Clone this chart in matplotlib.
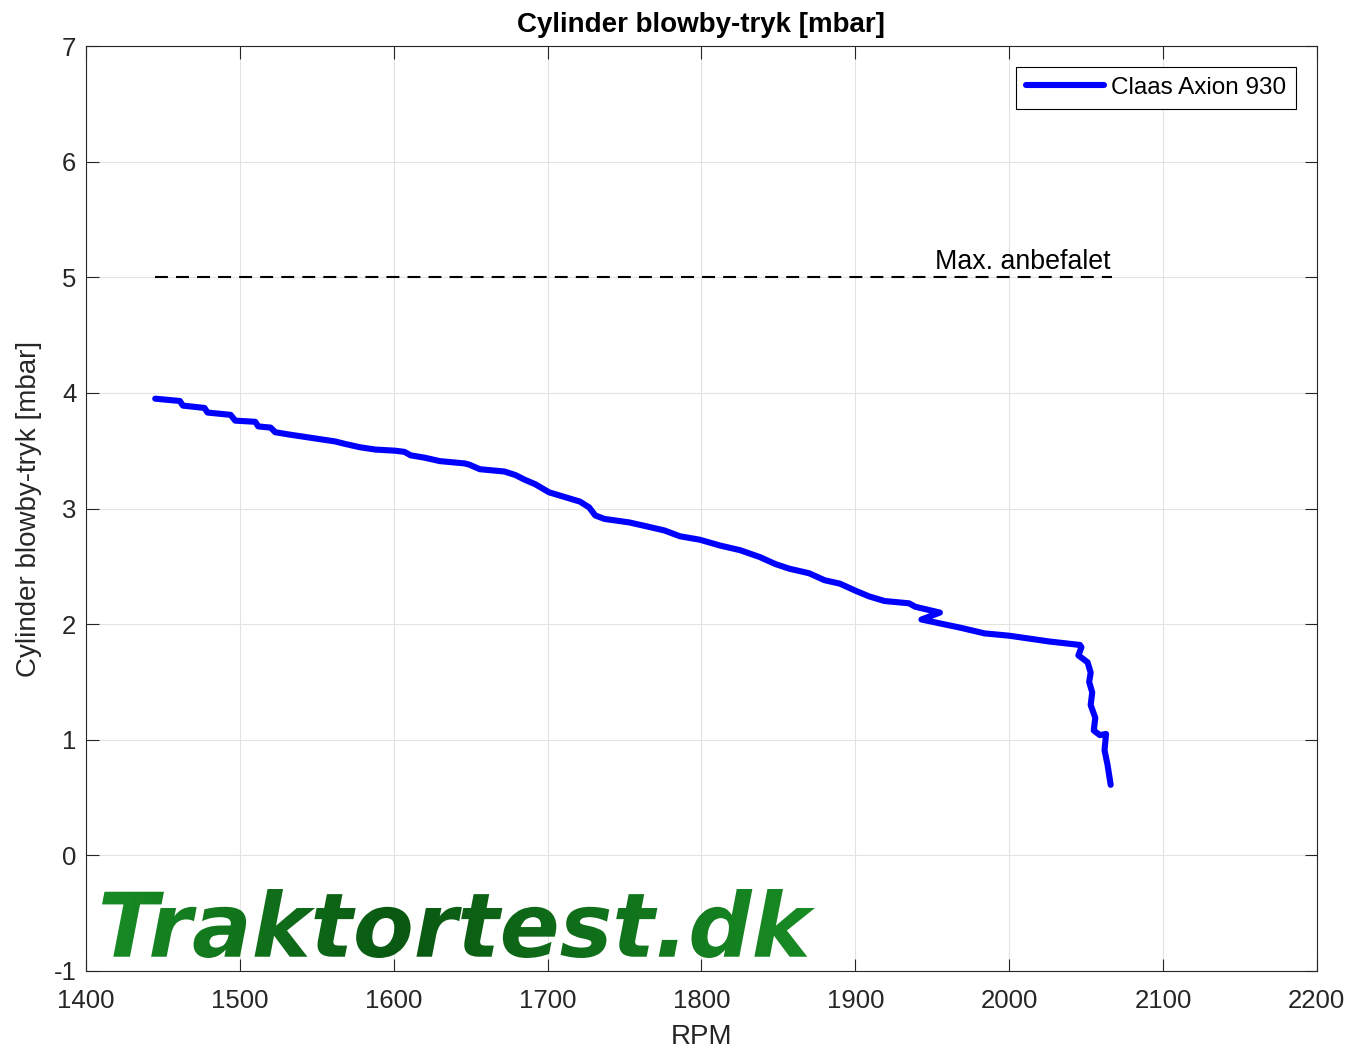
import matplotlib
matplotlib.use("Agg")
import matplotlib.pyplot as plt
import numpy as np
from matplotlib.colors import LinearSegmentedColormap
from matplotlib.font_manager import FontProperties
from matplotlib.patches import PathPatch
from matplotlib.textpath import TextPath
from matplotlib.transforms import Affine2D

plt.rcParams["font.family"] = ["Liberation Sans", "DejaVu Sans"]
plt.rcParams["axes.unicode_minus"] = False

# blowby curve (RPM, mbar)
rpm = [1445, 1461, 1463, 1477, 1479, 1494, 1497, 1510, 1512, 1520, 1523,
       1532, 1542, 1552, 1562, 1568, 1578, 1588, 1601, 1607, 1611, 1620,
       1630, 1646, 1649, 1656, 1672, 1679, 1685, 1692, 1701, 1711, 1721,
       1727, 1731, 1737, 1753, 1763, 1776, 1786, 1799, 1812, 1825, 1838,
       1848, 1857, 1870, 1880, 1890, 1900, 1909, 1919, 1935, 1939, 1955,
       1943, 1968, 1984, 2000, 2026, 2046, 2047, 2045, 2051, 2053, 2052,
       2054, 2053, 2056, 2055, 2059, 2063, 2062, 2064, 2066]
blowby = [3.95, 3.93, 3.89, 3.87, 3.83, 3.81, 3.76, 3.75, 3.71, 3.70, 3.66,
          3.64, 3.62, 3.60, 3.58, 3.56, 3.53, 3.51, 3.50, 3.49, 3.46, 3.44,
          3.41, 3.39, 3.38, 3.34, 3.32, 3.29, 3.25, 3.21, 3.14, 3.10, 3.06,
          3.01, 2.94, 2.91, 2.88, 2.85, 2.81, 2.76, 2.73, 2.68, 2.64, 2.58,
          2.52, 2.48, 2.44, 2.38, 2.35, 2.29, 2.24, 2.20, 2.18, 2.15, 2.10,
          2.04, 1.97, 1.92, 1.90, 1.85, 1.82, 1.80, 1.73, 1.67, 1.58, 1.50,
          1.41, 1.30, 1.19, 1.08, 1.04, 1.05, 0.91, 0.78, 0.61]

limit_rpm = [1445, 2067]
limit_val = [5, 5]

xticks = list(range(1400, 2201, 100))
yticks = list(range(-1, 8))

TXT = "#262626"

fig = plt.figure(figsize=(13.52, 10.56), dpi=100)
ax = fig.add_axes([0.0636, 0.0805, 0.9104, 0.8759])

ax.plot(rpm, blowby, color="#0000ff", lw=4.4, label="Claas Axion 930",
        solid_joinstyle="round", solid_capstyle="round")
ax.plot(limit_rpm, limit_val, color="black", lw=1.5, ls=(0, (6.2, 3.9)))
ax.text(limit_rpm[1] - 1, 5.02, "Max. anbefalet", ha="right", va="bottom",
        fontsize=19.3, color="black")

ax.set_xlim(1400, 2200)
ax.set_ylim(-1, 7)
ax.set_xticks(xticks)
ax.set_yticks(yticks)
ax.tick_params(direction="in", top=True, right=True, labelsize=18.5,
               length=9, width=0.8, pad=7, colors=TXT, labelcolor=TXT)
ax.tick_params(axis="x", pad=13)
ax.grid(True, color="#e3e3e3", lw=0.8)
ax.set_axisbelow(True)
for s in ax.spines.values():
    s.set_linewidth(0.8)
    s.set_color(TXT)

ax.set_xlabel("RPM", fontsize=20, color=TXT, labelpad=8)
ax.set_ylabel("Cylinder blowby-tryk [mbar]", fontsize=20, color=TXT,
              labelpad=8)
ax.set_title("Cylinder blowby-tryk [mbar]", fontsize=20, fontweight="bold",
             pad=10)

leg = ax.legend(loc="upper right", fontsize=17.5, fancybox=False,
                framealpha=1, edgecolor="black", handlelength=3.2,
                handletextpad=0.3, borderpad=0.42, borderaxespad=0.85)
leg.get_frame().set_linewidth(0.8)

# watermark: bold italic text filled with a green gradient
tp = TextPath((0, 0), "Traktortest.dk", size=1,
              prop=FontProperties(family="DejaVu Sans", weight="bold",
                                  style="oblique"))
ext = tp.get_extents()
wm_ax = fig.add_axes([102 / 1352, 98 / 1056, 713 / 1352, 69 / 1056])
wm_ax.set_axis_off()
wm_ax.set_xlim(0, 1)
wm_ax.set_ylim(0, 1)
cmap = LinearSegmentedColormap.from_list(
    "wm", [(0, "#188c25"), (0.42, "#0a5812"), (1, "#188c25")])
grad = np.linspace(0, 1, 256).reshape(1, -1)
im = wm_ax.imshow(grad, cmap=cmap, aspect="auto", extent=[0, 1, 0, 1])
tr = (Affine2D().translate(-ext.x0, -ext.y0)
      .scale(1 / ext.width, 1 / ext.height) + wm_ax.transAxes)
clip = PathPatch(tp, transform=tr, facecolor="none", edgecolor="none")
wm_ax.add_patch(clip)
im.set_clip_path(clip)

fig.savefig("out.png", dpi=100)
